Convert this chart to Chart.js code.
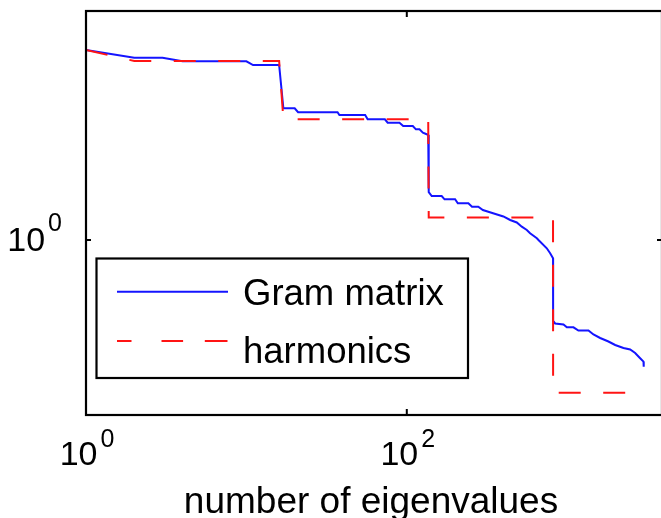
<!DOCTYPE html>
<html>
<head>
<meta charset="utf-8">
<style>
  html, body { margin: 0; padding: 0; background: #ffffff; overflow: hidden; }
  canvas { display: block; }
</style>
<script src="https://cdn.jsdelivr.net/npm/chart.js@4.4.0/dist/chart.umd.min.js"></script>
</head>
<body>
<canvas id="c" width="664" height="518"></canvas>
<script>
// ---- data ----
const gramX = [1,2,3,4,10,11,16,17,20,21,37,38,55,57,73,76,90,95,109,114,120,126,133,136,137,143,165,172,200,208,242,255,279,298,345,400,441,485,521,560,587,647,662,746,783,816,817,841,948,995,1094,1175,1357,1458,1605,1808,1991,2243,2469,2653,2850,2990,3000];
const gramY = [2.953,2.827,2.827,2.769,2.769,2.711,2.711,2.118,2.118,2.071,2.071,2.039,2.039,1.990,1.990,1.951,1.951,1.915,1.915,1.879,1.879,1.844,1.827,1.820,1.314,1.285,1.285,1.261,1.261,1.2325,1.2325,1.209,1.209,1.1865,1.1644,1.1434,1.1207,1.1049,1.0787,1.0587,1.0389,1.0097,1.0,0.9538,0.9270,0.9010,0.6303,0.6214,0.6178,0.6080,0.6080,0.5970,0.5970,0.5835,0.5720,0.5607,0.5497,0.5403,0.5357,0.5252,0.5096,0.4998,0.4857];
const harmX = [1,2,16,17,136,137,816,817,3000];
const harmY = [2.953,2.774,2.774,1.991,1.991,1.137,1.137,0.4188,0.4188];

const seriesNames = ['Gram matrix', 'harmonics'];
const xTickValues = [1, 100];
const xTickBase = ['10', '10'];
const xTickExp = ['0', '2'];
const yTickValues = [1];
const yTickBase = ['10'];
const yTickExp = ['0'];
const xTitle = 'number of eigenvalues';

const FONT = '"Liberation Sans", Arial, Helvetica, sans-serif';

function toPts(xs, ys) { return xs.map((x, i) => ({ x: x, y: ys[i] })); }

const decor = {
  id: 'decor',
  afterDraw(chart) {
    const ctx = chart.ctx;
    const a = chart.chartArea;
    const xs = chart.scales.x, ys = chart.scales.y;
    ctx.save();
    // frame
    ctx.strokeStyle = '#000';
    ctx.lineWidth = 2.2;
    ctx.strokeRect(a.left, a.top, a.right - a.left, a.bottom - a.top);
    // inward ticks
    ctx.lineWidth = 2;
    xTickValues.forEach(v => {
      const px = xs.getPixelForValue(v);
      ctx.beginPath();
      ctx.moveTo(px, a.bottom); ctx.lineTo(px, a.bottom - 6);
      ctx.moveTo(px, a.top); ctx.lineTo(px, a.top + 6);
      ctx.stroke();
    });
    yTickValues.forEach(v => {
      const py = ys.getPixelForValue(v);
      ctx.beginPath();
      ctx.moveTo(a.left, py); ctx.lineTo(a.left + 5, py);
      ctx.moveTo(a.right, py); ctx.lineTo(a.right - 5, py);
      ctx.stroke();
    });
    // tick labels
    ctx.fillStyle = '#000';
    ctx.textBaseline = 'alphabetic';
    const mainFont = '34px ' + FONT, supFont = '25px ' + FONT;
    xTickValues.forEach((v, i) => {
      const px = xs.getPixelForValue(v);
      ctx.font = mainFont; const wb = ctx.measureText(xTickBase[i]).width;
      ctx.font = supFont; const we = ctx.measureText(xTickExp[i]).width;
      const gap = 3;
      const start = px + 1 - (wb + gap + we) / 2;
      ctx.textAlign = 'left';
      ctx.font = mainFont; ctx.fillText(xTickBase[i], start, 465);
      ctx.font = supFont; ctx.fillText(xTickExp[i], start + wb + gap, 446.5);
    });
    yTickValues.forEach((v, i) => {
      const py = ys.getPixelForValue(v);
      ctx.font = supFont; const we = ctx.measureText(yTickExp[i]).width;
      const gap = 3, right = 62;
      ctx.textAlign = 'left';
      ctx.font = supFont; ctx.fillText(yTickExp[i], right - we, py - 8.5);
      ctx.textAlign = 'right';
      ctx.font = mainFont; ctx.fillText(yTickBase[i], right - we - gap, py + 11.5);
    });
    // x title
    ctx.font = '37px ' + FONT;
    ctx.textAlign = 'center';
    ctx.fillText(xTitle, (a.left + a.right) / 2 - 3, 513);
    // legend
    ctx.fillStyle = '#fff';
    ctx.fillRect(96.5, 258.5, 371.5, 119.5);
    ctx.strokeStyle = '#000';
    ctx.lineWidth = 2.2;
    ctx.strokeRect(96.5, 258.5, 371.5, 119.5);
    const ds = chart.data.datasets;
    ctx.lineWidth = 2;
    ctx.strokeStyle = ds[0].borderColor;
    ctx.beginPath(); ctx.moveTo(117, 291.7); ctx.lineTo(228, 291.7); ctx.stroke();
    ctx.strokeStyle = ds[1].borderColor;
    ctx.setLineDash([14.5, 30, 21.6, 21.7, 22.7, 60]);
    ctx.beginPath(); ctx.moveTo(117, 341); ctx.lineTo(228, 341); ctx.stroke();
    ctx.setLineDash([]);
    ctx.fillStyle = '#000';
    ctx.textAlign = 'left';
    ctx.font = '36.5px ' + FONT;
    ctx.fillText(seriesNames[0], 243, 305);
    ctx.fillText(seriesNames[1], 243, 363);
    ctx.restore();
  }
};

new Chart(document.getElementById('c'), {
  type: 'scatter',
  data: {
    datasets: [
      {
        label: seriesNames[0],
        data: toPts(gramX, gramY),
        showLine: true,
        borderColor: 'rgb(20,20,255)',
        borderWidth: 2,
        pointRadius: 0,
        fill: false,
        order: 2
      },
      {
        label: seriesNames[1],
        data: toPts(harmX, harmY),
        showLine: true,
        borderColor: 'rgb(255,20,20)',
        borderWidth: 2,
        borderDash: [22, 22.5],
        pointRadius: 0,
        fill: false,
        order: 1
      }
    ]
  },
  options: {
    responsive: false,
    animation: false,
    devicePixelRatio: 1,
    layout: { padding: { left: 86, top: 11, right: 2, bottom: 103 } },
    plugins: { legend: { display: false }, tooltip: { enabled: false } },
    scales: {
      x: { type: 'logarithmic', min: 1, max: 3900, display: false },
      y: { type: 'logarithmic', min: 0.3688, max: 3.688, display: false }
    }
  },
  plugins: [decor]
});
</script>
</body>
</html>
